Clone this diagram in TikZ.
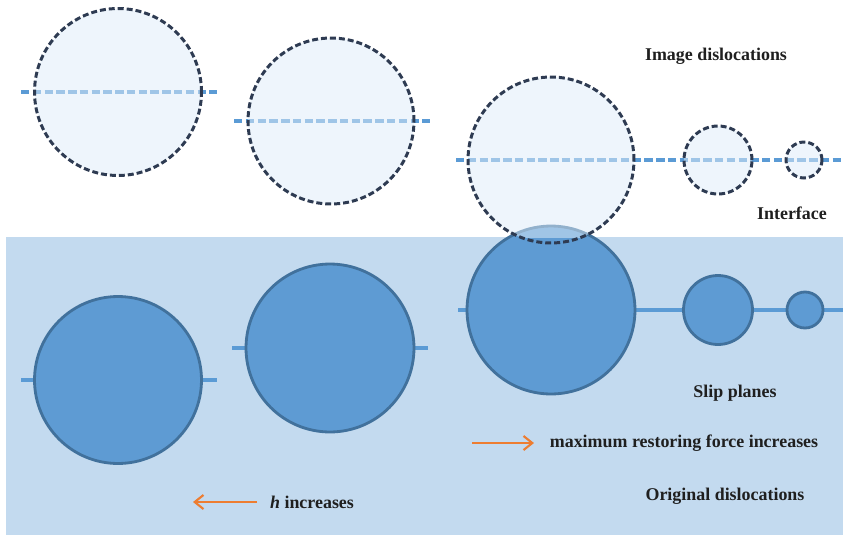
\documentclass[tikz,border=0pt]{standalone}
\usepackage{fontspec}
\setmainfont{Liberation Serif}
\usetikzlibrary{arrows.meta}

\definecolor{bgblue}{HTML}{C3DAEF}
\definecolor{orgfill}{HTML}{5E9BD3}
\definecolor{orgline}{HTML}{41719C}
\definecolor{slipblue}{HTML}{5B9BD5}
\definecolor{imgfill}{HTML}{DEECF9}
\definecolor{imgline}{HTML}{2E3B52}
\definecolor{arrorange}{HTML}{ED7D31}

\begin{document}
\begin{tikzpicture}[
        x=0.02cm, y=-0.02cm,
        imgdis/.style={circle, draw=imgline, line width=1.7pt, dash pattern=on 3.4pt off 1.7pt, minimum size=#1, inner sep=0pt},
        orgdis/.style={circle, draw=orgline, fill=orgfill, line width=1.6pt, minimum size=#1, inner sep=0pt},
        imgslip/.style={draw=slipblue, line width=1.8pt, dash pattern=on 4.8pt off 1.9pt},
        orgslip/.style={draw=slipblue, line width=1.8pt},
        label/.style={font=\fontsize{10.2}{12}\selectfont\bfseries, text=black!88},
        arrow/.style={draw=arrorange, line width=1.2pt, -{Straight Barb[length=5pt, width=8pt]}}
    ]

    \useasboundingbox (0,0) rectangle (843,535);
    \fill[bgblue] (6,237) rectangle (843,535);

    % slip planes
    \coordinate (ia1) at (21,92);   \coordinate (ib1) at (217,92);
    \coordinate (ia2) at (234,121); \coordinate (ib2) at (430,121);
    \coordinate (ia3) at (456,160); \coordinate (ib3) at (843,160);
    \coordinate (oa1) at (21,380);  \coordinate (ob1) at (217,380);
    \coordinate (oa2) at (232,348); \coordinate (ob2) at (428,348);
    \coordinate (oa3) at (458,310); \coordinate (ob3) at (843,310);
    \draw[imgslip] (ia1) -- (ib1);
    \draw[imgslip] (ia2) -- (ib2);
    \draw[imgslip] (ia3) -- (ib3);
    \draw[orgslip] (oa1) -- (ob1);
    \draw[orgslip] (oa2) -- (ob2);
    \draw[orgslip] (oa3) -- (ob3);

    % original dislocations
    \node[orgdis=3.34cm] (org1) at (118,380) {};
    \node[orgdis=3.36cm] (org2) at (330,348) {};
    \node[orgdis=3.36cm] (org3) at (551,310) {};
    \node[orgdis=1.38cm] (org4) at (718,310) {};
    \node[orgdis=0.72cm] (org5) at (805,310) {};

    % image dislocations
    \begin{scope}
        \clip (0,0) rectangle (843,237);
        \foreach \cx/\cy/\r in {118/92/83, 331/121/83, 551/160/83, 718/160/34, 804/160/18}
            \fill[imgfill, fill opacity=0.52] (\cx,\cy) circle[radius=\r*0.02cm];
    \end{scope}
    \node[imgdis=3.34cm] (img1) at (118,92) {};
    \node[imgdis=3.32cm] (img2) at (331,121) {};
    \node[imgdis=3.32cm] (img3) at (551,160) {};
    \node[imgdis=1.36cm] (img4) at (718,160) {};
    \node[imgdis=0.72cm] (img5) at (804,160) {};

    % labels
    \node[label] (imglab) at (716,56) {Image dislocations};
    \node[label] (iface) at (792,213) {Interface};
    \node[label] (sliplab) at (735,393) {Slip planes};
    \node[label] (force) at (684,443) {maximum restoring force increases};
    \node[label] (orglab) at (725,496) {Original dislocations};
    \node[label] (hinc) at (312,502) {\textit{h} increases};

    \coordinate (fa) at (472,443); \coordinate (fb) at (534,443);
    \coordinate (ha) at (257,502); \coordinate (hb) at (193,502);
    \draw[arrow] (fa) -- (fb);
    \draw[arrow] (ha) -- (hb);

\end{tikzpicture}
\end{document}
